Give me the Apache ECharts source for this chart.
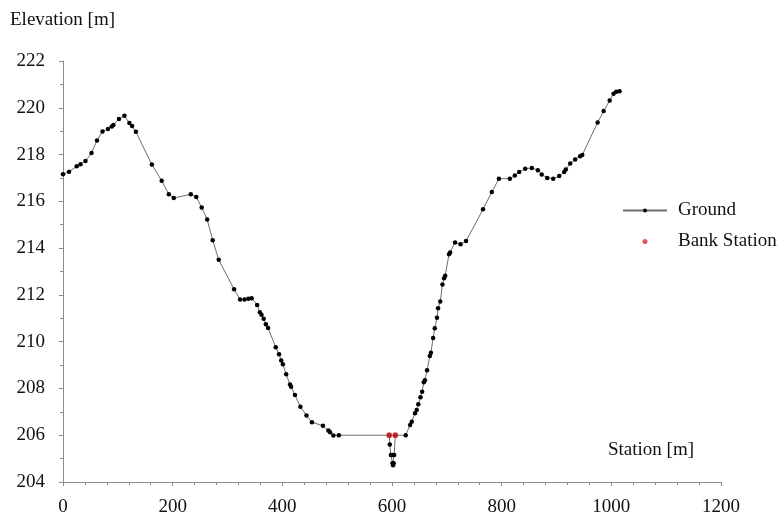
<!DOCTYPE html>
<html>
<head>
<meta charset="utf-8">
<script src="https://cdn.jsdelivr.net/npm/echarts@6/dist/echarts.min.js"></script>
<style>
  html, body { margin: 0; padding: 0; background: #fff; }
  #chart { width: 784px; height: 517px; }
</style>
</head>
<body>
<div id="chart"></div>
<script>
// ground profile (station m, elevation m)
const stations = [0, 11, 25, 32, 41, 52, 62, 72, 82, 89, 92, 102, 112, 121, 126, 133,
  162, 180, 193, 202, 233, 243, 253, 263, 273, 284, 312, 323, 331, 338, 344, 354,
  359, 362, 366, 370, 374, 388, 394, 398, 401, 407, 414, 416, 423, 433, 444, 454,
  474, 484, 487, 493, 503, 595, 596, 598, 601, 601, 602, 603, 604, 606, 625,
  633, 636, 642, 645, 648, 652, 655, 658, 660, 664, 669, 671, 675, 678, 682, 684,
  688, 692, 695, 697, 704, 706, 715, 725, 735, 766, 782, 795, 815, 824, 832, 843,
  855, 866, 873, 883, 894, 905, 914, 917, 925, 934, 943, 947, 975, 986, 997, 1004,
  1009, 1015];
const elevations = [217.16, 217.26, 217.5, 217.59, 217.72, 218.07, 218.6, 218.99, 219.09, 219.2, 219.26, 219.52, 219.66, 219.35, 219.22, 218.97,
  217.57, 216.88, 216.3, 216.14, 216.3, 216.18, 215.74, 215.22, 214.34, 213.5, 212.24, 211.8, 211.8, 211.83, 211.86, 211.57,
  211.26, 211.15, 210.98, 210.75, 210.58, 209.76, 209.46, 209.2, 209.03, 208.61, 208.17, 208.07, 207.72, 207.22, 206.84, 206.55,
  206.41, 206.2, 206.13, 205.99, 206.0, 206.0, 205.6, 205.15, 205.15, 204.8, 204.72, 204.8, 205.15, 206.0, 206.0,
  206.44, 206.58, 206.94, 207.08, 207.32, 207.62, 207.86, 208.26, 208.35, 208.78, 209.39, 209.53, 210.16, 210.57, 211.02, 211.43,
  211.72, 212.44, 212.71, 212.82, 213.74, 213.81, 214.24, 214.16, 214.3, 215.66, 216.4, 216.97, 216.97, 217.1, 217.25, 217.39,
  217.43, 217.33, 217.15, 217.0, 216.97, 217.08, 217.25, 217.36, 217.62, 217.79, 217.93, 217.98, 219.37, 219.86, 220.31, 220.6,
  220.68, 220.71];

const bankStations = [595, 606];
const bankElevations = [206.0, 206.0];

const xTicks = { min: 0, max: 1200, step: 200 };
const yTicks = { min: 204, max: 222, step: 2 };

const serif = "'Liberation Serif', 'DejaVu Serif', serif";
const chart = echarts.init(document.getElementById('chart'));

function axisCommon() {
  return {
    axisLine: { show: true, lineStyle: { color: '#8c8c8c', width: 1 } },
    axisTick: { show: true, inside: false, length: 4, lineStyle: { color: '#8c8c8c' } },
    minorTick: { show: true, length: 3, lineStyle: { color: '#8c8c8c' } },
    splitLine: { show: false },
    minorSplitLine: { show: false },
    axisLabel: {
      color: '#111',
      fontFamily: serif,
      fontSize: 19,
      formatter: v => String(v)   // no thousands separator
    }
  };
}

const xAxis = Object.assign(axisCommon(), {
  type: 'value',
  min: xTicks.min,
  max: xTicks.max,
  interval: xTicks.step
});
xAxis.minorTick.splitNumber = 5;
xAxis.axisLabel.margin = 16;

const yAxis = Object.assign(axisCommon(), {
  type: 'value',
  min: yTicks.min,
  max: yTicks.max,
  interval: yTicks.step
});
yAxis.minorTick.splitNumber = 2;
yAxis.axisLabel.margin = 18;

chart.setOption({
  animation: false,
  backgroundColor: '#fff',
  grid: { left: 63, right: 63, top: 61, bottom: 33 },
  xAxis: xAxis,
  yAxis: yAxis,
  legend: {
    orient: 'vertical',
    left: 617,
    top: 196,
    itemWidth: 44,
    itemHeight: 5,
    itemGap: 12,
    textStyle: { fontFamily: serif, fontSize: 19, color: '#111', padding: [0, 0, 0, 6] },
    data: ['Ground', 'Bank Station']
  },
  graphic: [
    { type: 'text', left: 10, top: 11, style: { text: 'Elevation [m]', font: '19px ' + serif, fill: '#111' } },
    { type: 'text', left: 608, top: 441, style: { text: 'Station [m]', font: '19px ' + serif, fill: '#111' } }
  ],
  series: [
    {
      name: 'Ground',
      type: 'line',
      data: stations.map((s, i) => [s, elevations[i]]),
      symbol: 'circle',
      symbolSize: 4.5,
      showAllSymbol: true,
      lineStyle: { color: '#6e6e6e', width: 1 },
      itemStyle: { color: '#000' },
      z: 2
    },
    {
      name: 'Bank Station',
      type: 'scatter',
      data: bankStations.map((s, i) => [s, bankElevations[i]]),
      symbol: 'circle',
      symbolSize: 6,
      itemStyle: { color: '#d42a2a' },
      z: 3
    }
  ]
});
</script>
</body>
</html>
